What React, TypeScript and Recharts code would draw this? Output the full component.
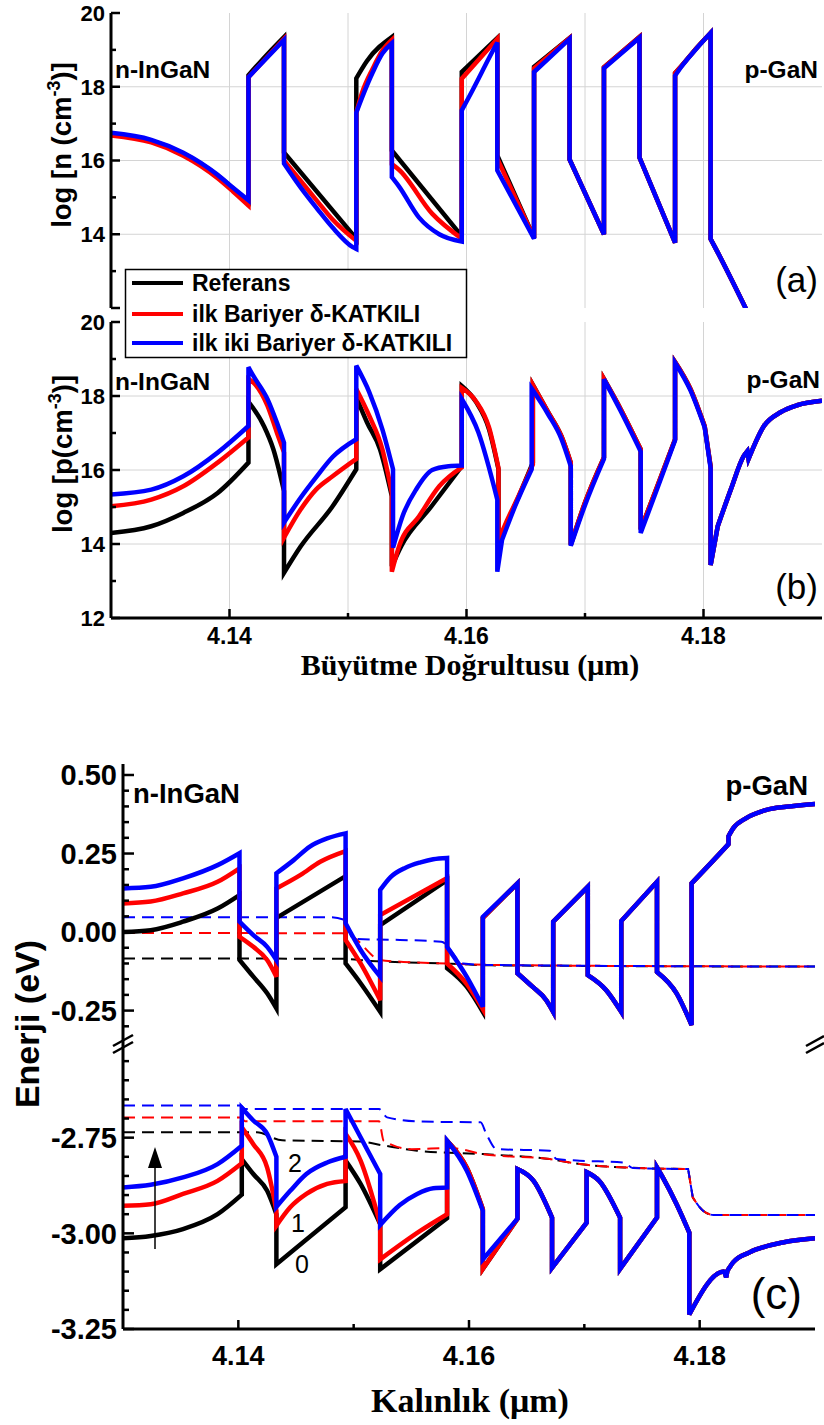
import { LineChart, Line, XAxis, YAxis, CartesianGrid } from "recharts";

// ---- axes ----
const X_DOMAIN: [number, number] = [4.13, 4.19];
const X_TICKS = [4.14, 4.15, 4.16, 4.17, 4.18];
const X_LABELS = [4.14, 4.16, 4.18];

const LOG_TICKS = [12, 13, 14, 15, 16, 17, 18, 19, 20];
const LOG_MAJOR = [12, 14, 16, 18, 20];
const N_LABELS = [14, 16, 18, 20];
const LOG_GRID = [14, 16, 18];

const CB_TICKS = [-0.3, -0.25, -0.2, -0.15, -0.1, -0.05, 0, 0.05, 0.1, 0.15, 0.2, 0.25, 0.3, 0.35, 0.4, 0.45, 0.5];
const CB_LABELS = [-0.25, 0, 0.25, 0.5];
const VB_TICKS = [-3.25, -3.2, -3.15, -3.1, -3.05, -3, -2.95, -2.9, -2.85, -2.8, -2.75, -2.7, -2.65, -2.6, -2.55];
const VB_LABELS = [-3.25, -3, -2.75];

const SERIES = [
    { name: "Referans", color: "#000000" },
    { name: "ilk Bariyer δ-KATKILI", color: "#ff0000" },
    { name: "ilk iki Bariyer δ-KATKILI", color: "#0000ff" },
];

// ---- (a) log n ----
const N_REF = [
    [4.13, 16.72], [4.1334, 16.54], [4.1361, 16.19], [4.139, 15.59], [4.1403, 15.24], [4.1416, 14.88],
    [4.1416, 18.31], [4.1431, 18.85], [4.1446, 19.35],
    [4.1446, 16.22], [4.1507, 13.88],
    [4.1507, 18.23], [4.1516, 18.7], [4.1537, 19.35],
    [4.1537, 16.27], [4.1596, 13.95],
    [4.1596, 18.4], [4.1626, 19.32],
    [4.1626, 16.14], [4.1657, 13.9],
    [4.1657, 18.54], [4.1687, 19.32],
    [4.1687, 16.03], [4.1716, 14.0],
    [4.1716, 18.53], [4.1746, 19.35],
    [4.1746, 16.08], [4.1776, 13.77],
    [4.1776, 18.37], [4.1781, 18.55], [4.1795, 19.08], [4.1806, 19.46],
    [4.1806, 13.87], [4.181, 13.63], [4.1837, 11.9],
];
const N_D1 = [
    [4.13, 16.68], [4.1334, 16.49], [4.1361, 16.13], [4.139, 15.52], [4.1403, 15.16], [4.1416, 14.78],
    [4.1416, 18.26], [4.1446, 19.3],
    [4.1446, 16.0], [4.146, 15.45], [4.1474, 14.9], [4.1487, 14.4], [4.1507, 13.82],
    [4.1507, 17.3], [4.1512, 17.85], [4.1521, 18.5], [4.1529, 18.98], [4.1537, 19.27],
    [4.1537, 15.9], [4.1543, 15.75], [4.1571, 14.56], [4.1596, 13.88],
    [4.1596, 18.22], [4.1626, 19.3],
    [4.1626, 16.05], [4.1657, 13.9],
    [4.1657, 18.5], [4.1687, 19.32],
    [4.1687, 16.03], [4.1716, 14.0],
    [4.1716, 18.53], [4.1746, 19.35],
    [4.1746, 16.08], [4.1776, 13.77],
    [4.1776, 18.37], [4.1781, 18.55], [4.1795, 19.08], [4.1806, 19.46],
    [4.1806, 13.87], [4.181, 13.63], [4.1837, 11.9],
];
const N_D2 = [
    [4.13, 16.75], [4.1334, 16.56], [4.1361, 16.21], [4.139, 15.61], [4.1403, 15.26], [4.1416, 14.92],
    [4.1416, 18.26], [4.1446, 19.27],
    [4.1446, 15.92], [4.146, 15.27], [4.1474, 14.69], [4.1487, 14.18], [4.1504, 13.65], [4.1507, 13.6],
    [4.1507, 17.3], [4.1512, 17.72], [4.1521, 18.4], [4.1529, 18.9], [4.1537, 19.18],
    [4.1537, 15.55], [4.1543, 15.3], [4.156, 14.45], [4.1577, 14.0], [4.1596, 13.8],
    [4.1596, 17.36], [4.1605, 17.9], [4.1613, 18.4], [4.1621, 18.9], [4.1626, 19.2],
    [4.1626, 15.73], [4.1657, 13.88],
    [4.1657, 18.4], [4.1687, 19.3],
    [4.1687, 16.03], [4.1716, 14.0],
    [4.1716, 18.5], [4.1746, 19.33],
    [4.1746, 16.08], [4.1776, 13.77],
    [4.1776, 18.3], [4.1781, 18.53], [4.1795, 19.07], [4.1806, 19.46],
    [4.1806, 13.87], [4.181, 13.63], [4.1837, 11.9],
];

// ---- (b) log p ----
const P_REF = [
    [4.13, 14.3], [4.1334, 14.48], [4.1361, 14.84], [4.139, 15.38], [4.1416, 16.2],
    [4.1416, 17.84], [4.1429, 17.19], [4.1437, 16.56], [4.1446, 15.43],
    [4.1446, 13.22], [4.146, 13.93], [4.1487, 15.02], [4.1507, 16.02],
    [4.1507, 17.97], [4.1516, 17.29], [4.1527, 16.56], [4.1537, 15.29],
    [4.1537, 13.4], [4.1545, 13.95], [4.157, 15.0], [4.1596, 16.1],
    [4.1596, 18.27], [4.1608, 17.84], [4.1619, 17.1], [4.1627, 16.02],
    [4.1627, 13.9], [4.1633, 14.47], [4.1644, 15.28], [4.1656, 16.2],
    [4.1656, 18.3], [4.1669, 17.56], [4.168, 16.92], [4.1688, 16.2],
    [4.1688, 13.98], [4.17, 15.12], [4.1716, 16.34],
    [4.1716, 18.46], [4.173, 17.65], [4.1747, 16.56],
    [4.1747, 14.39], [4.1761, 15.56], [4.1776, 16.83],
    [4.1776, 18.92], [4.1789, 18.19], [4.1801, 17.18], [4.1806, 16.1],
    [4.1806, 13.43], [4.1812, 14.48], [4.1823, 15.47], [4.1834, 16.38], [4.1837, 16.51], [4.1838, 16.3],
    [4.1851, 17.19], [4.1865, 17.56], [4.1879, 17.75], [4.19, 17.87],
];
const P_D1 = [
    [4.13, 15.02], [4.1334, 15.2], [4.1361, 15.56], [4.139, 16.2], [4.1416, 16.88],
    [4.1416, 18.46], [4.142, 18.37], [4.1432, 17.74], [4.144, 17.01], [4.1446, 16.47],
    [4.1446, 14.17], [4.146, 14.93], [4.1473, 15.47], [4.1487, 15.83], [4.1507, 16.3],
    [4.1507, 18.19], [4.1518, 17.46], [4.1529, 16.56], [4.1537, 15.38],
    [4.1537, 13.25], [4.1543, 13.93], [4.156, 14.75], [4.1577, 15.56], [4.1596, 16.07],
    [4.1596, 18.22], [4.1608, 17.86], [4.1619, 17.15], [4.1627, 16.05],
    [4.1627, 14.1], [4.1633, 14.55], [4.1644, 15.3], [4.1656, 16.15],
    [4.1656, 18.3], [4.1669, 17.56], [4.168, 16.92], [4.1688, 16.2],
    [4.1688, 13.98], [4.17, 15.12], [4.1716, 16.34],
    [4.1716, 18.46], [4.173, 17.65], [4.1747, 16.56],
    [4.1747, 14.39], [4.1761, 15.56], [4.1776, 16.83],
    [4.1776, 18.92], [4.1789, 18.19], [4.1801, 17.18], [4.1806, 16.1],
    [4.1806, 13.43], [4.1812, 14.48], [4.1823, 15.47], [4.1834, 16.38], [4.1837, 16.51], [4.1838, 16.3],
    [4.1851, 17.19], [4.1865, 17.56], [4.1879, 17.75], [4.19, 17.87],
];
const P_D2 = [
    [4.13, 15.34], [4.1334, 15.47], [4.1361, 15.83], [4.139, 16.47], [4.1416, 17.19],
    [4.1416, 18.78], [4.142, 18.55], [4.1432, 17.92], [4.144, 17.28], [4.1446, 16.74],
    [4.1446, 14.58], [4.146, 15.25], [4.1473, 15.8], [4.1487, 16.35], [4.1507, 16.83],
    [4.1507, 18.82], [4.1518, 18.1], [4.1529, 17.1], [4.1538, 16.02],
    [4.1538, 13.9], [4.1546, 14.75], [4.1558, 15.5], [4.1571, 16.0], [4.1585, 16.1], [4.1596, 16.12],
    [4.1596, 17.92], [4.161, 17.02], [4.1626, 15.2],
    [4.1626, 13.25], [4.163, 14.11], [4.1641, 15.02], [4.1655, 16.02],
    [4.1655, 18.2], [4.1669, 17.5], [4.168, 16.85], [4.1688, 16.1],
    [4.1688, 13.95], [4.17, 15.05], [4.1716, 16.3],
    [4.1716, 18.45], [4.173, 17.6], [4.1747, 16.5],
    [4.1747, 14.3], [4.1761, 15.5], [4.1776, 16.8],
    [4.1776, 18.9], [4.1789, 18.15], [4.1801, 17.15], [4.1806, 16.05],
    [4.1806, 13.43], [4.1812, 14.48], [4.1823, 15.47], [4.1834, 16.38], [4.1837, 16.51], [4.1838, 16.3],
    [4.1851, 17.19], [4.1865, 17.56], [4.1879, 17.75], [4.19, 17.87],
];

// ---- (c) conduction band (upper part) ----
const CB_REF = [
    [4.13, 0.0], [4.1324, 0.006], [4.1352, 0.033], [4.1382, 0.075], [4.1401, 0.118],
    [4.1401, -0.089], [4.1413, -0.142], [4.1425, -0.195], [4.1433, -0.243],
    [4.1433, 0.045], [4.1493, 0.178],
    [4.1493, -0.1], [4.1506, -0.163], [4.1523, -0.254],
    [4.1523, 0.022], [4.1581, 0.165],
    [4.1581, -0.115], [4.1598, -0.174], [4.1612, -0.254],
    [4.1612, 0.045], [4.1642, 0.155],
    [4.1642, -0.131], [4.1655, -0.174], [4.1667, -0.217], [4.1673, -0.254],
    [4.1673, 0.033], [4.1703, 0.144],
    [4.1703, -0.137], [4.1719, -0.185], [4.1732, -0.254],
    [4.1732, 0.035], [4.1763, 0.16],
    [4.1763, -0.127], [4.178, -0.195], [4.1793, -0.296],
    [4.1793, 0.155], [4.1822, 0.268], [4.1825, 0.28], [4.1825, 0.305], [4.1829, 0.33],
    [4.184, 0.362], [4.1858, 0.389], [4.1875, 0.399], [4.19, 0.408],
];
const CB_D1 = [
    [4.13, 0.091], [4.1324, 0.097], [4.1352, 0.123], [4.1382, 0.16], [4.1401, 0.203],
    [4.1401, -0.015], [4.1413, -0.047], [4.1425, -0.089], [4.1433, -0.142],
    [4.1433, 0.139], [4.1454, 0.182], [4.1471, 0.224], [4.1493, 0.258],
    [4.1493, -0.025], [4.1506, -0.1], [4.1523, -0.217],
    [4.1523, 0.054], [4.1581, 0.172],
    [4.1581, -0.1], [4.1598, -0.165], [4.1612, -0.245],
    [4.1612, 0.045], [4.1642, 0.155],
    [4.1642, -0.131], [4.1655, -0.174], [4.1667, -0.217], [4.1673, -0.254],
    [4.1673, 0.033], [4.1703, 0.144],
    [4.1703, -0.137], [4.1719, -0.185], [4.1732, -0.254],
    [4.1732, 0.035], [4.1763, 0.16],
    [4.1763, -0.127], [4.178, -0.195], [4.1793, -0.296],
    [4.1793, 0.155], [4.1822, 0.268], [4.1825, 0.28], [4.1825, 0.305], [4.1829, 0.33],
    [4.184, 0.362], [4.1858, 0.389], [4.1875, 0.399], [4.19, 0.408],
];
const CB_D2 = [
    [4.13, 0.139], [4.1324, 0.144], [4.1352, 0.171], [4.1382, 0.213], [4.1401, 0.251],
    [4.1401, 0.033], [4.1413, -0.01], [4.1425, -0.047], [4.1433, -0.089],
    [4.1433, 0.187], [4.1448, 0.229], [4.1462, 0.272], [4.1477, 0.298], [4.1493, 0.314],
    [4.1493, 0.028], [4.1506, -0.057], [4.1523, -0.142],
    [4.1523, 0.134], [4.1532, 0.175], [4.1545, 0.205], [4.1558, 0.222], [4.1569, 0.232], [4.1581, 0.236],
    [4.1581, -0.047], [4.1598, -0.142], [4.1612, -0.238],
    [4.1612, 0.048], [4.1642, 0.155],
    [4.1642, -0.131], [4.1655, -0.174], [4.1667, -0.217], [4.1673, -0.254],
    [4.1673, 0.033], [4.1703, 0.144],
    [4.1703, -0.137], [4.1719, -0.185], [4.1732, -0.254],
    [4.1732, 0.035], [4.1763, 0.16],
    [4.1763, -0.127], [4.178, -0.195], [4.1793, -0.296],
    [4.1793, 0.155], [4.1822, 0.268], [4.1825, 0.28], [4.1825, 0.305], [4.1829, 0.33],
    [4.184, 0.362], [4.1858, 0.389], [4.1875, 0.399], [4.19, 0.408],
];
// electron quasi-Fermi levels (dashed)
const EF_REF = [[4.13, -0.084], [4.149, -0.085], [4.1515, -0.092], [4.158, -0.1], [4.162, -0.106], [4.19, -0.11]];
const EF_D1 = [[4.13, -0.003], [4.149, -0.004], [4.1497, -0.01], [4.1523, -0.089], [4.1543, -0.095], [4.1581, -0.1], [4.1624, -0.105], [4.19, -0.11]];
const EF_D2 = [[4.13, 0.047], [4.148, 0.047], [4.1491, 0.04], [4.15, -0.022], [4.154, -0.025], [4.1576, -0.031], [4.1595, -0.1], [4.162, -0.105], [4.19, -0.11]];

// ---- (c) valence band (lower part) ----
const VB_REF = [
    [4.13, -3.013], [4.1324, -3.007], [4.1352, -2.989], [4.1382, -2.95], [4.1403, -2.899],
    [4.1403, -2.806], [4.1413, -2.845], [4.1425, -2.889], [4.1433, -2.95],
    [4.1433, -3.081], [4.1493, -2.932],
    [4.1493, -2.81], [4.1506, -2.871], [4.1523, -2.976],
    [4.1523, -3.094], [4.1581, -2.96],
    [4.1581, -2.758], [4.1598, -2.828], [4.1612, -2.937],
    [4.1612, -3.093], [4.1642, -2.962],
    [4.1642, -2.832], [4.1656, -2.863], [4.1672, -2.959],
    [4.1672, -3.09], [4.1702, -2.972],
    [4.1702, -2.84], [4.1713, -2.863], [4.1731, -2.959],
    [4.1731, -3.093], [4.1763, -2.959],
    [4.1763, -2.828], [4.1768, -2.854], [4.178, -2.924], [4.1791, -2.998],
    [4.1791, -3.212], [4.1821, -3.1], [4.1823, -3.115], [4.1824, -3.098], [4.1829, -3.076],
    [4.1843, -3.05], [4.1872, -3.024], [4.19, -3.013],
];
const VB_D1 = [
    [4.13, -2.928], [4.1324, -2.924], [4.1352, -2.897], [4.1382, -2.863], [4.1403, -2.817],
    [4.1403, -2.723], [4.1413, -2.767], [4.1425, -2.828], [4.1433, -2.941],
    [4.1433, -2.98], [4.1445, -2.932], [4.1459, -2.897], [4.1477, -2.871], [4.1493, -2.863],
    [4.1493, -2.74], [4.1506, -2.81], [4.1523, -2.976],
    [4.1523, -3.068], [4.1558, -2.993], [4.1581, -2.95],
    [4.1581, -2.758], [4.1598, -2.828], [4.1612, -2.937],
    [4.1612, -3.093], [4.1642, -2.962],
    [4.1642, -2.832], [4.1656, -2.863], [4.1672, -2.959],
    [4.1672, -3.09], [4.1702, -2.972],
    [4.1702, -2.84], [4.1713, -2.863], [4.1731, -2.959],
    [4.1731, -3.093], [4.1763, -2.959],
    [4.1763, -2.828], [4.1768, -2.854], [4.178, -2.924], [4.1791, -2.998],
    [4.1791, -3.212], [4.1821, -3.1], [4.1823, -3.115], [4.1824, -3.098], [4.1829, -3.076],
    [4.1843, -3.05], [4.1872, -3.024], [4.19, -3.013],
];
const VB_D2 = [
    [4.13, -2.88], [4.1324, -2.873], [4.1352, -2.854], [4.1382, -2.819], [4.1403, -2.771],
    [4.1403, -2.672], [4.1413, -2.705], [4.1425, -2.74], [4.1433, -2.8],
    [4.1433, -2.931], [4.1445, -2.889], [4.1459, -2.845], [4.1477, -2.815], [4.1493, -2.8],
    [4.1493, -2.675], [4.1506, -2.749], [4.1523, -2.845],
    [4.1523, -2.978], [4.154, -2.926], [4.1555, -2.897], [4.1569, -2.882], [4.1581, -2.88],
    [4.1581, -2.758], [4.1598, -2.836], [4.1612, -2.941],
    [4.1612, -3.068], [4.1642, -2.962],
    [4.1642, -2.832], [4.1656, -2.863], [4.1672, -2.959],
    [4.1672, -3.09], [4.1702, -2.972],
    [4.1702, -2.84], [4.1713, -2.863], [4.1731, -2.959],
    [4.1731, -3.093], [4.1763, -2.959],
    [4.1763, -2.828], [4.1768, -2.854], [4.178, -2.924], [4.1791, -2.998],
    [4.1791, -3.212], [4.1821, -3.1], [4.1823, -3.115], [4.1824, -3.098], [4.1829, -3.076],
    [4.1843, -3.05], [4.1872, -3.024], [4.19, -3.013],
];
// hole quasi-Fermi levels (dashed)
const HF_REF = [
    [4.13, -2.736], [4.1416, -2.736], [4.1438, -2.757], [4.1505, -2.76], [4.1525, -2.77], [4.1555, -2.784],
    [4.1612, -2.793], [4.167, -2.806], [4.1696, -2.819], [4.1736, -2.828], [4.179, -2.832],
    [4.1794, -2.906], [4.1803, -2.941], [4.1812, -2.952], [4.19, -2.952],
];
const HF_D1 = [
    [4.13, -2.697], [4.1402, -2.697], [4.1406, -2.707], [4.1522, -2.707], [4.1526, -2.758], [4.155, -2.78],
    [4.1584, -2.777], [4.1612, -2.793], [4.167, -2.806], [4.1696, -2.819], [4.1736, -2.828], [4.179, -2.832],
    [4.1794, -2.906], [4.1803, -2.941], [4.1812, -2.952], [4.19, -2.952],
];
const HF_D2 = [
    [4.13, -2.666], [4.1402, -2.666], [4.1406, -2.675], [4.1522, -2.675], [4.1529, -2.697], [4.1558, -2.708],
    [4.161, -2.71], [4.1615, -2.74], [4.1624, -2.78], [4.167, -2.784], [4.1676, -2.806], [4.1696, -2.81],
    [4.1734, -2.815], [4.1742, -2.829], [4.179, -2.832], [4.1794, -2.906], [4.1803, -2.941], [4.1812, -2.952],
    [4.19, -2.952],
];

const pts = (a: number[][]) => a.map(([x, y]) => ({ x, y }));
const near = (arr: number[], v: number) => arr.some((m) => Math.abs(m - v) < 1e-6);

const SANS = "'Liberation Sans', Arial, sans-serif";
const SERIF = "'Liberation Serif', 'Times New Roman', serif";
const FRAME = { stroke: "#000", strokeWidth: 3 };

// Curve: straight through the steps, monotone cubic through the smooth runs.
function stepCurve(context: any) {
    let xs: number[] = [];
    let ys: number[] = [];
    const sgn = (v: number) => (v < 0 ? -1 : v > 0 ? 1 : 0);
    const smooth = (k: number) => {
        const dx = xs[k + 1] - xs[k];
        return dx > 0.3 && Math.abs(ys[k + 1] - ys[k]) < 5 * dx;
    };
    return {
        areaStart() {},
        areaEnd() {},
        lineStart() {
            xs = [];
            ys = [];
        },
        point(x: number, y: number) {
            xs.push(+x);
            ys.push(+y);
        },
        lineEnd() {
            const n = xs.length;
            if (!n) return;
            context.moveTo(xs[0], ys[0]);
            let i = 0;
            while (i < n - 1) {
                let j = i;
                while (j < n - 1 && smooth(j)) j++;
                if (j - i < 2) {
                    const end = j === i ? i + 1 : j;
                    for (let k = i + 1; k <= end; k++) context.lineTo(xs[k], ys[k]);
                    i = end;
                    continue;
                }
                const L = j - i;
                const d: number[] = [];
                for (let k = 0; k < L; k++) d.push((ys[i + k + 1] - ys[i + k]) / (xs[i + k + 1] - xs[i + k]));
                const m: number[] = new Array(L + 1).fill(0);
                for (let k = 1; k < L; k++) {
                    const h0 = xs[i + k] - xs[i + k - 1];
                    const h1 = xs[i + k + 1] - xs[i + k];
                    const p = (d[k - 1] * h1 + d[k] * h0) / (h0 + h1);
                    m[k] = (sgn(d[k - 1]) + sgn(d[k])) * Math.min(Math.abs(d[k - 1]), Math.abs(d[k]), 0.5 * Math.abs(p)) || 0;
                }
                m[0] = (3 * d[0] - m[1]) / 2;
                m[L] = (3 * d[L - 1] - m[L - 1]) / 2;
                if (sgn(m[0]) !== sgn(d[0])) m[0] = 0;
                if (sgn(m[L]) !== sgn(d[L - 1])) m[L] = 0;
                for (let k = 0; k < L; k++) {
                    const x0 = xs[i + k], y0 = ys[i + k], x1 = xs[i + k + 1], y1 = ys[i + k + 1];
                    const h = (x1 - x0) / 3;
                    context.bezierCurveTo(x0 + h, y0 + m[k] * h, x1 - h, y1 - m[k + 1] * h, x1, y1);
                }
                i = j;
            }
        },
    };
}

// ticks point into the plot, labels sit outside
function makeTick(o: {
    side: "left" | "right" | "top" | "bottom";
    gap: number;
    majors: number[];
    labels?: number[];
    fmt?: (v: number) => string;
    fontSize?: number;
    long?: number;
    short?: number;
}) {
    const long = o.long ?? 9;
    const short = o.short ?? 5;
    return (p: any) => {
        const v = p.payload.value as number;
        const len = near(o.majors, v) ? long : short;
        const lab = o.labels && near(o.labels, v) ? (o.fmt ? o.fmt(v) : String(v)) : null;
        let line;
        if (o.side === "left") {
            const ax = p.x + o.gap;
            line = <line x1={ax} x2={ax + len} y1={p.y} y2={p.y} />;
        } else if (o.side === "right") {
            const ax = p.x - o.gap;
            line = <line x1={ax} x2={ax - len} y1={p.y} y2={p.y} />;
        } else if (o.side === "top") {
            const ay = p.y + o.gap;
            line = <line x1={p.x} x2={p.x} y1={ay} y2={ay + len} />;
        } else {
            const ay = p.y - o.gap;
            line = <line x1={p.x} x2={p.x} y1={ay} y2={ay - len} />;
        }
        return (
            <g>
                <g stroke="#000" strokeWidth={2.5}>{line}</g>
                {lab !== null && (
                    <text
                        x={p.x}
                        y={p.y}
                        dy={o.side === "left" ? "0.36em" : 0}
                        textAnchor={o.side === "left" ? "end" : "middle"}
                        fontFamily={SANS}
                        fontWeight="bold"
                        fontSize={o.fontSize ?? 22}
                        fill="#000"
                    >
                        {lab}
                    </text>
                )}
            </g>
        );
    };
}

function seriesLines(sets: number[][][], xId: string, yId: string, dashed = false) {
    return sets.map((d, i) => (
        <Line
            key={(dashed ? "d" : "s") + i}
            data={pts(d)}
            xAxisId={xId}
            yAxisId={yId}
            dataKey="y"
            type={stepCurve as any}
            stroke={SERIES[i].color}
            strokeWidth={dashed ? 2 : 4.5}
            strokeDasharray={dashed ? "12 7" : undefined}
            dot={false}
            activeDot={false}
            isAnimationActive={false}
        />
    ));
}

function LogPanel({ sets, showLabels }: { sets: number[][][]; showLabels: boolean }) {
    return (
        <LineChart
            width={824}
            height={showLabels ? 400 : 310}
            margin={{ top: showLabels ? 22 : 13, right: 2, bottom: 2, left: 0 }}
        >
            <CartesianGrid
                xAxisId="b"
                yAxisId="l"
                stroke="#d4d4d4"
                strokeWidth={1}
                horizontalValues={LOG_GRID}
                verticalValues={X_TICKS}
            />
            <XAxis
                xAxisId="b"
                dataKey="x"
                type="number"
                domain={X_DOMAIN}
                allowDataOverflow
                ticks={X_TICKS}
                interval={0}
                height={showLabels ? 80 : 0}
                tickSize={0}
                tickMargin={26}
                tickLine={false}
                axisLine={FRAME}
                tick={makeTick({
                    side: "bottom",
                    gap: 26,
                    majors: X_LABELS,
                    labels: showLabels ? X_LABELS : [],
                    fmt: (v) => v.toFixed(2),
                    fontSize: 23,
                })}
            />
            <XAxis
                xAxisId="t"
                orientation="top"
                type="number"
                domain={X_DOMAIN}
                allowDataOverflow
                ticks={X_TICKS}
                interval={0}
                height={0}
                tickSize={0}
                tickMargin={0}
                tickLine={false}
                axisLine={FRAME}
                tick={makeTick({ side: "top", gap: 0, majors: X_TICKS })}
            />
            <YAxis
                yAxisId="l"
                type="number"
                domain={[12, 20]}
                allowDataOverflow
                ticks={LOG_TICKS}
                interval={0}
                width={111}
                tickSize={0}
                tickMargin={6}
                tickLine={false}
                axisLine={FRAME}
                tick={makeTick({
                    side: "left",
                    gap: 6,
                    majors: LOG_MAJOR,
                    labels: showLabels ? LOG_MAJOR : N_LABELS,
                    fontSize: 22,
                })}
            />
            <YAxis
                yAxisId="r"
                orientation="right"
                type="number"
                domain={[12, 20]}
                allowDataOverflow
                ticks={LOG_TICKS}
                interval={0}
                width={0}
                tickSize={0}
                tickMargin={0}
                tickLine={false}
                axisLine={FRAME}
                tick={makeTick({ side: "right", gap: 0, majors: LOG_MAJOR })}
            />
            {seriesLines(sets, "b", "l")}
        </LineChart>
    );
}

function EnergyPanel({ upper }: { upper: boolean }) {
    const yTicks = upper ? CB_TICKS : VB_TICKS;
    const yLabels = upper ? CB_LABELS : VB_LABELS;
    const yDomain: [number, number] = upper ? [-0.35, 0.535] : [-3.25, -2.5];
    const xGap = upper ? 0 : 36;
    return (
        <LineChart
            width={824}
            height={upper ? 302 : 379}
            margin={{ top: upper ? 24 : 12, right: 9, bottom: 0, left: 0 }}
        >
            <XAxis
                xAxisId="x"
                orientation={upper ? "top" : "bottom"}
                dataKey="x"
                type="number"
                domain={X_DOMAIN}
                allowDataOverflow
                ticks={X_TICKS}
                interval={0}
                height={upper ? 0 : 80}
                tickSize={0}
                tickMargin={xGap}
                tickLine={false}
                axisLine={FRAME}
                tick={makeTick({
                    side: upper ? "top" : "bottom",
                    gap: xGap,
                    majors: upper ? X_TICKS : X_LABELS,
                    labels: upper ? [] : X_LABELS,
                    fmt: (v) => v.toFixed(2),
                    fontSize: 27,
                })}
            />
            <YAxis
                yAxisId="l"
                type="number"
                domain={yDomain}
                allowDataOverflow
                ticks={yTicks}
                interval={0}
                width={123}
                tickSize={0}
                tickMargin={6}
                tickLine={false}
                axisLine={FRAME}
                tick={makeTick({
                    side: "left",
                    gap: 6,
                    majors: yLabels,
                    labels: yLabels,
                    fmt: (v) => v.toFixed(2),
                    fontSize: 29,
                    long: 11,
                    short: 6,
                })}
            />
            <YAxis
                yAxisId="r"
                orientation="right"
                type="number"
                domain={yDomain}
                allowDataOverflow
                ticks={yTicks}
                interval={0}
                width={0}
                tickSize={0}
                tickMargin={0}
                tickLine={false}
                axisLine={FRAME}
                tick={makeTick({ side: "right", gap: 0, majors: yLabels, long: 11, short: 6 })}
            />
            {seriesLines(upper ? [EF_REF, EF_D1, EF_D2] : [HF_REF, HF_D1, HF_D2], "x", "l", true)}
            {seriesLines(upper ? [CB_REF, CB_D1, CB_D2] : [VB_REF, VB_D1, VB_D2], "x", "l")}
        </LineChart>
    );
}

function Overlay() {
    const bold = { fontFamily: SANS, fontWeight: "bold" as const, fill: "#000" };
    const plain = { fontFamily: SANS, fill: "#000" };
    const rows = [283, 314, 343];
    return (
        <svg
            width={824}
            height={1425}
            style={{ position: "absolute", left: 0, top: 0, pointerEvents: "none" }}
        >
            {/* region labels */}
            <text x={115} y={78} fontSize={24.5} {...bold}>n-InGaN</text>
            <text x={818} y={78} fontSize={24.5} textAnchor="end" {...bold}>p-GaN</text>
            <text x={115} y={390} fontSize={24.5} {...bold}>n-InGaN</text>
            <text x={820} y={388} fontSize={24.5} textAnchor="end" {...bold}>p-GaN</text>
            <text x={133} y={803} fontSize={27.5} {...bold}>n-InGaN</text>
            <text x={808} y={795} fontSize={27.5} textAnchor="end" {...bold}>p-GaN</text>
            <text x={818} y={292} fontSize={35} textAnchor="end" {...plain}>(a)</text>
            <text x={818} y={599} fontSize={35} textAnchor="end" {...plain}>(b)</text>
            <text x={802} y={1309} fontSize={44} textAnchor="end" {...plain}>(c)</text>

            {/* axis titles */}
            <text transform="translate(71,145) rotate(-90)" textAnchor="middle" fontSize={27.5} {...bold}>
                log [n (cm<tspan dy={-11} fontSize={18}>-3</tspan>
                <tspan dy={11}>)]</tspan>
            </text>
            <text transform="translate(72,454) rotate(-90)" textAnchor="middle" fontSize={27.5} {...bold}>
                log [p(cm<tspan dy={-11} fontSize={18}>-3</tspan>
                <tspan dy={11}>)]</tspan>
            </text>
            <text transform="translate(39,1024) rotate(-90)" textAnchor="middle" fontSize={34} {...bold}>
                Enerji (eV)
            </text>
            <text x={470} y={675} textAnchor="middle" fontFamily={SERIF} fontWeight="bold" fontSize={30}>
                Büyütme Doğrultusu (μm)
            </text>
            <text x={470} y={1412} textAnchor="middle" fontFamily={SERIF} fontWeight="bold" fontSize={34}>
                Kalınlık (μm)
            </text>

            {/* doping arrow and curve indices */}
            <line x1={155} y1={1249} x2={155} y2={1165} stroke="#000" strokeWidth={1.5} />
            <polygon points="148,1168 162,1168 155,1147" fill="#000" />
            <text x={295} y={1172} fontSize={25} textAnchor="middle" {...plain}>2</text>
            <text x={298} y={1232} fontSize={25} textAnchor="middle" {...plain}>1</text>
            <text x={302} y={1273} fontSize={25} textAnchor="middle" {...plain}>0</text>

            {/* axis break marks */}
            <g stroke="#000" strokeWidth={2.5}>
                <line x1={113} y1={1046} x2={133} y2={1035} />
                <line x1={113} y1={1053} x2={133} y2={1042} />
                <line x1={806} y1={1046} x2={824} y2={1036} />
                <line x1={806} y1={1053} x2={824} y2={1043} />
            </g>

            {/* legend */}
            <rect x={125.5} y={269.5} width={341} height={88} fill="#fff" stroke="#000" strokeWidth={1.5} />
            {SERIES.map((s, i) => (
                <g key={s.name}>
                    <line x1={132} x2={183} y1={rows[i]} y2={rows[i]} stroke={s.color} strokeWidth={4} />
                    <text x={192} y={rows[i]} dy="0.36em" fontSize={23} {...bold}>
                        {s.name}
                    </text>
                </g>
            ))}
        </svg>
    );
}

export default function App() {
    return (
        <div style={{ position: "absolute", left: 0, top: 0, width: 824, height: 1425, background: "#fff" }}>
            <div style={{ position: "absolute", left: 0, top: 0 }}>
                <LogPanel sets={[N_REF, N_D1, N_D2]} showLabels={false} />
            </div>
            <div style={{ position: "absolute", left: 0, top: 300 }}>
                <LogPanel sets={[P_REF, P_D1, P_D2]} showLabels />
            </div>
            <div style={{ position: "absolute", left: 0, top: 740 }}>
                <EnergyPanel upper />
            </div>
            <div style={{ position: "absolute", left: 0, top: 1030 }}>
                <EnergyPanel upper={false} />
            </div>
            <Overlay />
        </div>
    );
}
